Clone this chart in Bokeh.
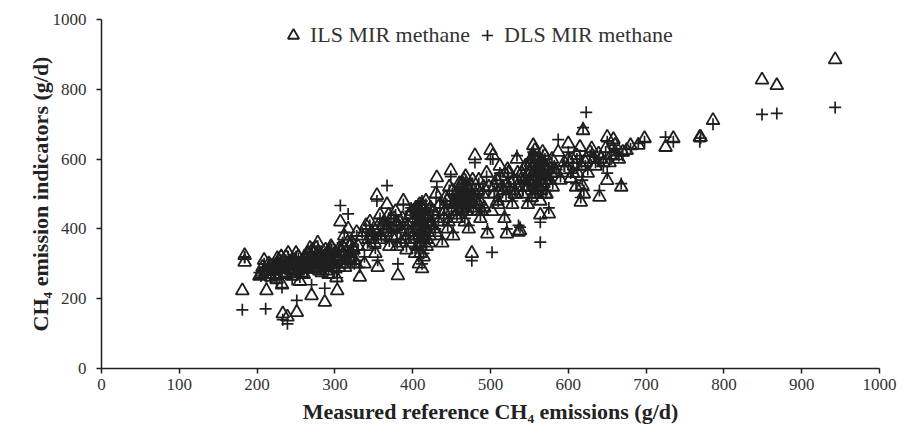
from bokeh.plotting import figure
from bokeh.models import Range1d, Legend, LegendItem, ColumnDataSource, FixedTicker
from bokeh.embed import file_html
from bokeh.resources import INLINE

# Measured reference CH4 emissions (g/d), one value per cow record
reference = [
    181, 184, 184, 205, 211, 212, 215, 218, 222, 225, 228, 230, 232, 233, 236, 239, 240, 242, 245, 248, 251, 252, 255, 258, 260,
    262, 265, 268, 270, 272, 275, 278, 280, 282, 285, 287, 288, 290, 292, 295, 297, 300, 302, 303, 305, 307, 310, 312, 315, 317,
    320, 322, 325, 328, 330, 332, 335, 338, 340,
    342, 345, 348, 350, 352, 354, 355, 358, 360, 362, 365, 367, 370, 372, 375, 378, 380, 381, 383, 385, 388, 390, 392, 395, 398,
    400, 402, 405, 407, 408, 410, 410, 410, 410, 410, 412, 412, 415, 418, 420,
    422, 425, 428, 430, 431, 433, 435, 438, 440, 442, 445, 447, 449, 450, 452, 455, 457, 460, 462, 463, 465, 465, 465, 467, 468,
    470, 472, 475, 476, 478, 480, 482, 485, 487, 490, 492, 495, 496, 498, 500,
    502, 503, 505, 508, 510, 512, 515, 518, 520, 521, 523, 525, 528, 530, 532, 534, 536, 538, 540, 542, 545, 548, 550, 552, 555,
    557, 559, 560, 562, 564, 564, 566, 568, 570, 572, 575, 578, 580,
    585, 587, 590, 595, 600, 603, 605, 610, 612, 615, 616, 618, 619, 620, 623, 625, 630, 635, 639, 640, 645, 650, 650, 655, 658,
    660, 665, 668, 670, 675, 680, 690, 698,
    725, 735, 769, 770, 786, 849, 868, 943,
    220, 224, 227, 231, 235, 238, 243, 246, 250, 254, 257, 261, 264, 267, 271, 274, 277, 281, 284, 289, 293, 296, 299, 304, 308,
    313, 318, 323,
    380, 384, 387, 391, 394, 397, 401, 404, 406, 409, 411, 413, 414, 416, 417, 419, 421, 424, 427, 429,
    441, 444, 446, 451, 453, 456, 459, 461, 464, 466, 469, 471, 474, 477, 479, 481, 484, 486, 489, 491,
    541, 543, 546, 549, 551, 553, 556, 558, 561, 563, 565, 567, 569, 571, 574, 576, 579, 582,
    203, 207, 209, 214, 217, 221, 226, 229, 234, 237, 241, 244, 247, 249, 253, 256, 259, 263, 266, 269, 273, 276, 279, 283, 286,
    291, 294, 298, 301, 306, 309, 311, 316, 319, 324, 327,
    403, 405, 407, 408, 409, 410, 411, 411, 412, 413, 414, 415, 416, 418, 420, 423,
    454, 456, 458, 460, 461, 462, 463, 464, 466, 467, 468, 469, 470, 471, 473, 475,
    547, 550, 552, 554, 555, 557, 558, 560, 561, 562, 563, 565, 566, 568, 570, 573,
    343, 347, 351, 356, 359, 363, 366, 369, 373, 376, 379, 505, 509, 513, 517, 522, 526, 531, 535, 539,
    595, 600, 606, 611, 617, 622, 628, 633, 642, 648, 653, 662,
]

# ILS MIR methane indicator (g/d)
ils = [
    223, 324, 305, 270, 278, 223, 300, 262, 290, 255, 310, 285, 240, 157, 275, 148, 330, 295, 265, 310, 161, 280, 250, 300, 270,
    310, 290, 345, 209, 330, 300, 360, 280, 320, 295, 190, 340, 310, 270, 350, 300, 330, 260, 223, 290, 420, 350, 380, 300, 400,
    330, 360, 310, 390, 350, 262, 380, 300, 410,
    350, 420, 380, 400, 330, 496, 290, 440, 370, 410, 390, 470, 350, 430, 400, 450, 380, 266, 420, 360, 480, 410, 340, 390, 450,
    420, 370, 400, 460, 300, 330, 360, 390, 420, 450, 286, 470, 410, 350, 430,
    380, 450, 400, 500, 547, 420, 470, 360, 430, 490, 400, 520, 567, 450, 380, 480, 430, 500, 470, 530, 460, 490, 510, 420, 550,
    470, 400, 520, 330, 450, 610, 480, 540, 430, 500, 460, 560, 386, 520, 625,
    450, 610, 500, 540, 470, 580, 520, 430, 490, 386, 560, 510, 470, 540, 500, 600, 391, 395, 560, 520, 580, 470, 540, 600, 639,
    625, 520, 500, 560, 480, 440, 590, 530, 610, 500, 443, 560, 520,
    560, 620, 540, 590, 644, 545, 600, 520, 560, 634, 477, 524, 682, 500, 600, 560, 630, 580, 615, 491, 590, 539, 663, 610, 656,
    640, 600, 520, 620, 625, 639, 640, 659,
    634, 659, 663, 663, 711, 827, 811, 885,
    280, 265, 300, 320, 290, 270, 305, 280, 330, 295, 275, 320, 285, 300, 340, 315, 290, 325, 305, 280, 320, 345, 300, 310, 335,
    290, 320, 345,
    350, 400, 430, 370, 410, 440, 380, 460, 350, 420, 390, 440, 370, 400, 480, 430, 360, 410, 450, 390,
    450, 480, 420, 510, 470, 440, 490, 460, 530, 480, 450, 500, 470, 540, 490, 460, 510, 480, 450, 520,
    500, 540, 580, 520, 560, 490, 600, 540, 510, 570, 530, 620, 550, 500, 580, 540, 600, 570,
    265, 290, 310, 280, 295, 270, 315, 290, 300, 320, 285, 305, 275, 300, 320, 290, 310, 295, 330, 310, 285, 345, 300, 275, 320,
    335, 305, 290, 320, 345, 300, 330, 360, 315, 340, 300,
    330, 410, 440, 380, 470, 350, 410, 430, 380, 455, 320, 400, 440, 370, 410, 460,
    470, 500, 450, 530, 480, 510, 460, 490, 540, 470, 500, 520, 450, 490, 510, 470,
    520, 560, 590, 540, 610, 500, 570, 530, 600, 550, 580, 510, 560, 590, 540, 570,
    370, 390, 360, 410, 380, 420, 400, 440, 380, 430, 410, 520, 480, 550, 510, 570, 530, 500, 560, 540,
    570, 600, 560, 610, 580, 590, 620, 600, 600, 630, 590, 610,
]

# DLS MIR methane indicator (g/d)
dls = [
    168, 320, 318, 265, 171, 260, 290, 280, 300, 245, 300, 290, 232, 140, 285, 128, 320, 300, 255, 315, 195, 270, 262, 290, 285,
    300, 300, 330, 240, 320, 310, 350, 290, 305, 280, 230, 330, 320, 285, 340, 290, 340, 275, 260, 300, 467, 360, 390, 310, 443,
    320, 370, 300, 380, 340, 290, 390, 320, 400,
    360, 410, 390, 380, 345, 480, 310, 430, 380, 420, 370, 524, 365, 420, 410, 440, 395, 300, 410, 370, 470, 400, 350, 380, 460,
    430, 380, 410, 470, 320, 350, 370, 400, 430, 460, 300, 480, 420, 360, 440,
    390, 440, 410, 490, 520, 430, 460, 370, 440, 480, 410, 510, 550, 460, 390, 470, 440, 510, 480, 520, 470, 480, 500, 430, 540,
    460, 410, 510, 309, 460, 590, 470, 530, 440, 510, 450, 550, 400, 510, 600,
    333, 600, 490, 530, 480, 560, 510, 440, 500, 400, 550, 520, 480, 530, 510, 610, 410, 405, 550, 510, 570, 480, 530, 590, 620,
    610, 530, 510, 550, 419, 362, 580, 540, 600, 510, 460, 550, 530,
    570, 656, 550, 580, 620, 560, 590, 530, 570, 610, 490, 540, 690, 510, 734, 570, 620, 590, 600, 510, 580, 560, 650, 600, 640,
    630, 610, 530, 610, 630, 630, 645, 650,
    663, 650, 650, 660, 700, 728, 731, 748,
    285, 270, 290, 310, 300, 275, 295, 290, 320, 300, 280, 315, 295, 290, 330, 320, 300, 315, 310, 290, 330, 340, 310, 300, 325,
    300, 330, 340,
    360, 410, 420, 380, 400, 450, 390, 450, 360, 410, 400, 430, 380, 410, 470, 420, 370, 420, 440, 400,
    460, 470, 430, 500, 480, 450, 480, 470, 520, 490, 460, 490, 480, 530, 500, 470, 500, 490, 460, 510,
    510, 530, 570, 530, 550, 500, 590, 550, 520, 560, 540, 610, 560, 510, 570, 550, 590, 580,
    275, 280, 300, 290, 285, 280, 305, 300, 295, 310, 290, 300, 285, 310, 315, 300, 300, 305, 320, 315, 295, 335, 310, 285, 310,
    330, 300, 300, 330, 340, 310, 320, 350, 325, 330, 310,
    345, 420, 430, 390, 460, 360, 420, 440, 390, 445, 330, 410, 450, 380, 420, 450,
    480, 490, 460, 520, 490, 500, 470, 500, 530, 480, 510, 510, 460, 500, 500, 480,
    530, 550, 580, 550, 600, 510, 560, 540, 590, 560, 570, 520, 570, 580, 550, 560,
    380, 380, 370, 400, 390, 410, 410, 430, 390, 420, 420, 510, 490, 540, 520, 560, 520, 510, 550, 530,
    580, 590, 570, 600, 590, 580, 610, 610, 590, 620, 600, 620,
]

x_ticks = [0, 100, 200, 300, 400, 500, 600, 700, 800, 900, 1000]
y_ticks = [0, 200, 400, 600, 800, 1000]

ink = "#1f1f1f"
serif = "Liberation Serif"

src = ColumnDataSource(dict(x=reference, ils=ils, dls=dls))

p = figure(width=904, height=439, output_backend="svg", toolbar_location=None,
           x_range=Range1d(0, 1000), y_range=Range1d(0, 1000),
           min_border_left=101, min_border_right=25, min_border_top=19, min_border_bottom=71)
p.outline_line_color = None
p.xgrid.visible = False
p.ygrid.visible = False
p.background_fill_color = "white"
p.border_fill_color = "white"

r_ils = p.scatter("x", "ils", source=src, marker="triangle", size=13,
                  fill_color=None, line_color=ink, line_width=1.8)
r_dls = p.scatter("x", "dls", source=src, marker="cross", size=12,
                  line_color=ink, line_width=1.7)

for ax, ticks in ((p.xaxis[0], x_ticks), (p.yaxis[0], y_ticks)):
    ax.ticker = FixedTicker(ticks=ticks)
    ax.minor_tick_line_color = None
    ax.major_tick_in = 0
    ax.major_tick_out = 5
    ax.axis_line_color = ink
    ax.axis_line_width = 1.5
    ax.major_tick_line_color = ink
    ax.major_tick_line_width = 1.5
    ax.major_label_text_font = serif
    ax.major_label_text_font_size = "17px"
    ax.major_label_text_color = "#333333"
    ax.axis_label_text_font = serif
    ax.axis_label_text_font_style = "bold"
    ax.axis_label_text_color = "#222222"

p.xaxis.axis_label = "Measured reference CH\u2084 emissions (g/d)"
p.yaxis.axis_label = "CH\u2084 emission indicators (g/d)"
p.xaxis.axis_label_text_font_size = "22px"
p.yaxis.axis_label_text_font_size = "22px"
p.xaxis.major_label_standoff = 5
p.yaxis.major_label_standoff = 10
p.xaxis.axis_label_standoff = 6
p.yaxis.axis_label_standoff = -3

legend = Legend(items=[LegendItem(label="ILS MIR methane", renderers=[r_ils]),
                       LegendItem(label="DLS MIR methane", renderers=[r_dls])],
                orientation="horizontal", location=(168, 309),
                border_line_alpha=0, background_fill_alpha=0,
                label_text_font=serif, label_text_font_size="22px",
                label_text_color="#333333", glyph_width=28, glyph_height=28,
                spacing=3, label_standoff=3)
p.add_layout(legend)

open("out.html", "w").write(file_html(p, INLINE))
